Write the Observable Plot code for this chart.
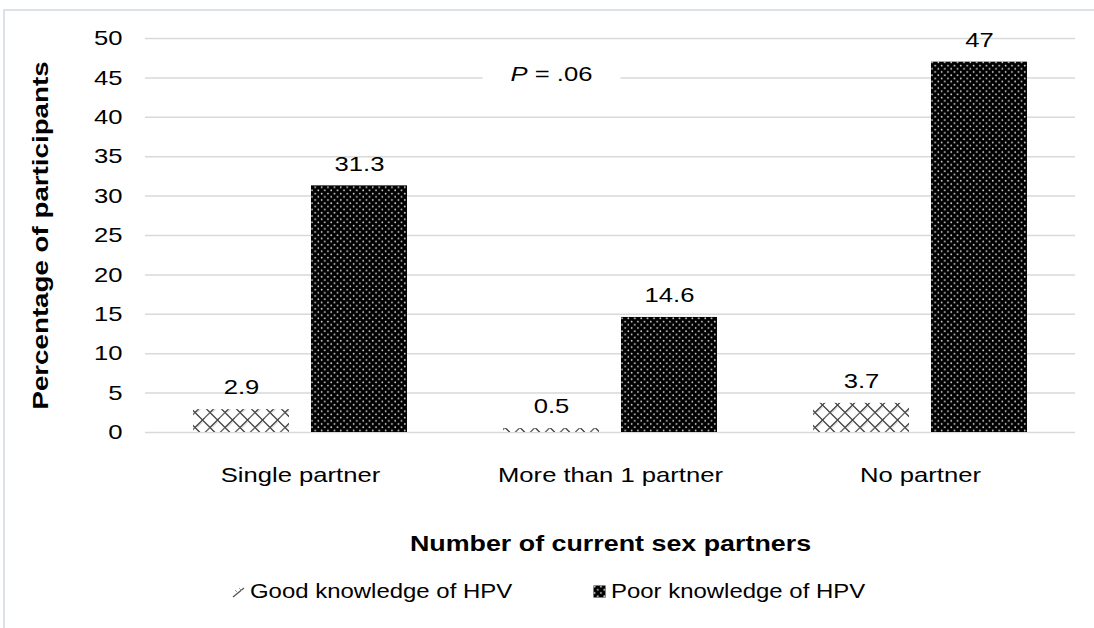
<!DOCTYPE html>
<html>
<head>
<meta charset="utf-8">
<script src="https://cdn.jsdelivr.net/npm/d3@7"></script>
<script src="https://cdn.jsdelivr.net/npm/@observablehq/plot@0.6"></script>
<style>
  html, body { margin: 0; padding: 0; background: #fff; }
  body { width: 1094px; height: 628px; position: relative; overflow: hidden; font-family: "Liberation Sans", Arial, sans-serif; }
  #frame { position: absolute; left: 3px; top: 9px; width: 1200px; height: 700px; border-left: 2px solid #dde1e8; border-top: 2px solid #dde1e8; }
  #chart { position: absolute; left: 0; top: 0; }
  #chart svg [aria-label="y-axis label"], #chart svg [aria-label="fx-axis label"] { font-size: 22px; font-weight: bold; }
  .legend { position: absolute; top: 579px; font-size: 21px; color: #000; display: flex; align-items: center; white-space: nowrap; }
  .legend svg { margin-right: 5px; }
  .legend span { display: inline-block; transform: scaleX(1.14); transform-origin: left center; }
</style>
</head>
<body>
<div id="frame"></div>
<div id="chart"></div>
<script>
const categories = ["Single partner", "More than 1 partner", "No partner"];
const series = ["Good knowledge of HPV", "Poor knowledge of HPV"];
const goodValues = [2.9, 0.5, 3.7];
const poorValues = [31.3, 14.6, 47];
const yTicks = [0, 5, 10, 15, 20, 25, 30, 35, 40, 45, 50];
const yLabel = "Percentage of participants";
const xLabel = "Number of current sex partners";
const annotations = [{cat: "More than 1 partner", series: "Good knowledge of HPV", value: 45.5, text: "P = .06"}];

const data = categories.flatMap((c, i) => [
  {cat: c, series: series[0], value: goodValues[i]},
  {cat: c, series: series[1], value: poorValues[i]}
]);

const svg = Plot.plot({
  width: 1094,
  height: 560,
  marginTop: 38,
  marginLeft: 145,
  marginRight: 19,
  marginBottom: 128,
  style: {fontFamily: "'Liberation Sans', Arial, sans-serif", fontSize: "21px", color: "#000", background: "transparent", overflow: "visible"},
  fx: {domain: categories, padding: 0},
  x: {domain: series, paddingInner: 0.19, paddingOuter: 0.4, axis: null},
  y: {domain: [0, 50]},
  color: {domain: series, range: ["url(#goodPat)", "url(#poorPat)"]},
  marks: [
    Plot.gridY(yTicks, {stroke: "#d9d9d9", strokeOpacity: 1, strokeWidth: 1.5}),
    Plot.axisY({ticks: yTicks, tickSize: 0, tickPadding: 23, label: yLabel, labelAnchor: "center", labelArrow: "none", labelOffset: 113, fontSize: 21}),
    Plot.axisFx({anchor: "bottom", tickSize: 0, tickPadding: 35, label: xLabel, labelAnchor: "center", labelArrow: "none", labelOffset: 118, fontSize: 21}),
    Plot.barY(data, {fx: "cat", x: "series", y: "value", fill: "series"}),
    Plot.text(data, {fx: "cat", x: "series", y: "value", text: d => String(d.value), dy: -22, fontSize: 21, fill: "#000"}),
    Plot.text(annotations, {fx: "cat", x: "series", y: "value", text: "text", fontSize: 21, fill: "#000"})
  ]
});

const defs = `
<defs>
  <pattern id="goodPat" patternUnits="userSpaceOnUse" width="15" height="15">
    <rect width="15" height="15" fill="#fff"/>
    <path d="M0,7.5 L7.5,0 L15,7.5 L7.5,15 Z" fill="none" stroke="#444" stroke-width="1.3"/>
    <path d="M2,7.5 L7.5,2 M9.5,13 L15,7.5" fill="none" stroke="#aaa" stroke-width="0.8"/>
  </pattern>
  <pattern id="poorPat" patternUnits="userSpaceOnUse" width="6.4" height="6.4">
    <rect width="6.4" height="6.4" fill="#000"/>
    <circle cx="1.6" cy="1.6" r="0.85" fill="#e6e6e6"/>
    <circle cx="4.8" cy="4.8" r="0.85" fill="#e6e6e6"/>
  </pattern>
</defs>`;
const tmp = document.createElementNS("http://www.w3.org/2000/svg", "svg");
tmp.innerHTML = defs;
svg.insertBefore(tmp.firstElementChild, svg.firstChild);

document.getElementById("chart").appendChild(svg);

// italic P in annotation
let annotationNode = null;
d3.select(svg).selectAll("text").each(function() {
  if (this.textContent === annotations[0].text) {
    const t = annotations[0].text;
    this.textContent = "";
    d3.select(this).append("tspan").attr("font-style", "italic").text(t.slice(0, 1));
    d3.select(this).append("tspan").text(t.slice(1));
    annotationNode = this;
  }
});

// widen glyphs like the reference rendering
const yLabelNode = svg.querySelector('[aria-label="y-axis label"]');
svg.querySelectorAll("text").forEach(t => {
  const factor = (yLabelNode && yLabelNode.contains(t)) ? 1.26 : 1.22;
  const len = t.getComputedTextLength();
  if (len > 0) {
    t.setAttribute("textLength", (len * factor).toFixed(1));
    t.setAttribute("lengthAdjust", "spacingAndGlyphs");
  }
});

// white box behind the annotation
if (annotationNode) {
  const bb = annotationNode.getBBox();
  const r = d3.select(annotationNode.parentNode).insert("rect", () => annotationNode)
    .attr("x", bb.x - 28).attr("y", bb.y - 2)
    .attr("width", bb.width + 56).attr("height", bb.height + 6)
    .attr("fill", "white");
  if (annotationNode.getAttribute("transform")) r.attr("transform", annotationNode.getAttribute("transform"));
}

// legend
const legendPos = [232, 593];
const swatches = [
  `<svg width="13" height="13"><path d="M1,12 L12,3" stroke="#555" stroke-width="1.3" fill="none"/><path d="M3,5 L6,8 M7,3 L10,6" stroke="#999" stroke-width="1" fill="none"/></svg>`,
  `<svg width="13" height="13"><rect x="0.5" y="0.5" width="12" height="12" fill="url(#poorPat)"/></svg>`
];
series.forEach((s, i) => {
  const div = document.createElement("div");
  div.className = "legend";
  div.style.left = legendPos[i] + "px";
  div.innerHTML = swatches[i] + `<span>${s}</span>`;
  document.body.appendChild(div);
});
</script>
</body>
</html>
